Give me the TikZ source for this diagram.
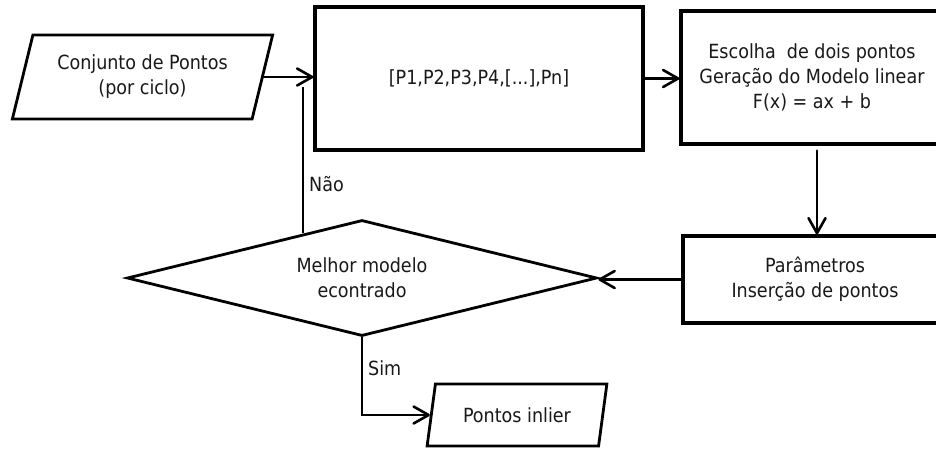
\documentclass[tikz,border=0pt]{standalone}
\usepackage{fontspec}
\setmainfont{DejaVu Sans Condensed}
\usetikzlibrary{shapes.geometric,arrows.meta,calc}

\tikzset{
  txt/.style={font=\fontsize{19.5pt}{25pt}\selectfont, text=black!90, align=center},
  iobox/.style={txt, draw, line width=2.8pt, shape=trapezium,
    trapezium left angle=70, trapezium right angle=110,
    trapezium stretches=true, inner sep=0pt},
  procbox/.style={txt, draw, line width=3.2pt, rectangle, inner sep=0pt},
  decision/.style={txt, draw, line width=2.8pt, diamond, aspect=4, inner sep=1pt},
  flow/.style={draw, line width=2.6pt, line cap=round,
    -{Straight Barb[length=15pt,width=17pt,line cap=round,line join=round]}},
  plainflow/.style={draw, line width=2.6pt},
  edgelabel/.style={txt, anchor=west, inner sep=0pt}
}

\begin{document}
\begin{tikzpicture}[x=1pt,y=-1pt]
  \useasboundingbox (0,0) rectangle (936,448);
  \fill[white] (0,0) rectangle (936,448);
  \clip (0,0) rectangle (936,448);

  % input and output data
  \node[iobox, minimum width=261pt, minimum height=84pt] (input) at (142.5,77)
    {Conjunto de Pontos\\(por ciclo)};
  \node[iobox, minimum width=180pt, minimum height=62pt] (output) at (517,415)
    {Pontos inlier};

  % processing steps
  \node[procbox, minimum width=328pt, minimum height=143pt] (points) at (479,78.5)
    {[P1,P2,P3,P4,[...],Pn]};
  \node[procbox, minimum width=262pt, minimum height=133pt] (model) at (812,77.5)
    {Escolha\ \ de dois pontos\\Geração do Modelo linear\\F(x) = ax + b};
  \node[procbox, minimum width=264pt, minimum height=87pt] (params) at (815,279.5)
    {Parâmetros\\Inserção de pontos};

  % decision
  \node[decision, minimum width=470pt, minimum height=116pt] (best) at (362,278)
    {Melhor modelo\\econtrado};

  % connectors
  \draw[flow] (input.east) -- (input.east -| points.west);
  \draw[flow] (points.east) -- (points.east -| model.west);
  \draw[flow, shorten <=5pt] ([xshift=5pt]model.south) -- ([xshift=2pt]params.north);
  \draw[flow] (params.west) -- (params.west -| best.east);
  \draw[flow] (best.south) |- (output.west);

  \coordinate (loopstart) at ($(best.north)!0.25!(best.west)$);
  \coordinate (loopend) at (loopstart |- 0,87);
  \draw[plainflow] (loopstart) -- (loopend);

  % branch labels
  \node[edgelabel] (no) at (309,184) {Não};
  \node[edgelabel] (yes) at (368,368) {Sim};
\end{tikzpicture}
\end{document}
